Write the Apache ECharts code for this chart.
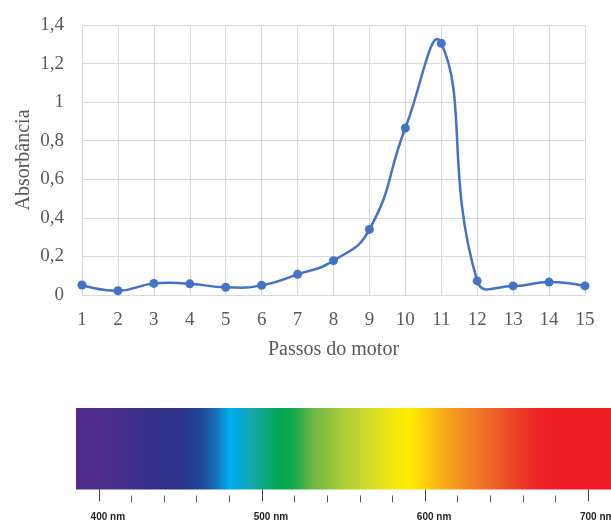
<!DOCTYPE html>
<html lang="pt">
<head>
    <meta charset="UTF-8">
    <title>Absorbância</title>
    <script src="https://cdn.jsdelivr.net/npm/echarts@6/dist/echarts.min.js"></script>
    <style>
        body{ margin:0; background:#fff; }
        .box{ width:611px; height:521px; }
    </style>
</head>
<body>
    <div class="box"></div>
</body>
<script>
 // passos do motor e absorbância lida
 let passos = ['1','2','3','4','5','6','7','8','9','10','11','12','13','14','15']
 let absorbancia = [0.052, 0.022, 0.060, 0.058, 0.040, 0.050, 0.107, 0.178, 0.340, 0.866, 1.305, 0.073, 0.047, 0.067, 0.047]
 let yTicks = [0, 0.2, 0.4, 0.6, 0.8, 1, 1.2, 1.4]

 // faixa do espectro (nm) e cores
 let faixaNm = [386, 714]
 let espectroNm = [386, 413, 433, 450, 464, 472, 480, 487, 494, 511, 519, 531, 548, 564, 580, 591, 603, 615, 635, 652, 669, 683, 714]
 let espectroCor = ['#552A8D', '#46308C', '#36308A', '#2C3188', '#1E4C9C', '#1670B8', '#00AEEF', '#06A8D8', '#17A7A7', '#00A650', '#12A84A', '#6BB543', '#A7CB38', '#CEDA2B', '#F2E80F', '#FFEC00', '#FBC60F', '#F6A11C', '#EF7226', '#EC4A27', '#EB2427', '#ED1C24', '#ED1C24']
 let nmMaior = [400, 500, 600, 700]
 let nmMenor = [420, 440, 460, 480, 520, 540, 560, 580, 620, 640, 660, 680]

 let cinza = '#595959'
 let grade = '#D9D9D9'
 let azul = '#4472C4'
 let serif = 'Liberation Serif'

 // curva suavizada tipo Excel (bezier entre pontos vizinhos)
 function segmento(params, api) {
    let i = api.value(0)
    let pts = absorbancia.map((v, k) => api.coord([k, v]))
    let n = pts.length
    let dist = (a, b) => Math.hypot(b[0] - a[0], b[1] - a[1])
    function ctrl(k) {
        if (k === 0 || k === n - 1) return [pts[k], pts[k]]
        let d0 = dist(pts[k - 1], pts[k]), d1 = dist(pts[k], pts[k + 1])
        let tx = pts[k + 1][0] - pts[k - 1][0], ty = pts[k + 1][1] - pts[k - 1][1]
        let f0 = 0.5 * d0 / (d0 + d1), f1 = 0.5 * d1 / (d0 + d1)
        return [[pts[k][0] - tx * f0, pts[k][1] - ty * f0], [pts[k][0] + tx * f1, pts[k][1] + ty * f1]]
    }
    let a = pts[i], b = pts[i + 1]
    let c1 = ctrl(i)[1], c2 = ctrl(i + 1)[0]
    return {
        type: 'bezierCurve',
        shape: { x1: a[0], y1: a[1], cpx1: c1[0], cpy1: c1[1], cpx2: c2[0], cpy2: c2[1], x2: b[0], y2: b[1] },
        style: { stroke: azul, lineWidth: 2.5, fill: null }
    }
 }

 let chart = echarts.init(document.querySelector('.box'))
 let option = {
    animation: false,
    grid: [
        { left: 82, top: 25, width: 503, height: 270, outerBoundsMode: 'none' },
        { left: 76, top: 408, width: 535, height: 87.5, outerBoundsMode: 'none' }
    ],
    xAxis: [
        {
            gridIndex: 0,
            type: 'category',
            data: passos,
            boundaryGap: false,
            name: 'Passos do motor',
            nameLocation: 'middle',
            nameGap: 45,
            nameMoveOverlap: false,
            nameTextStyle: { color: cinza, fontFamily: serif, fontSize: 20 },
            axisLine: { lineStyle: { color: grade, width: 1 } },
            axisTick: { show: false },
            axisLabel: { color: cinza, fontFamily: serif, fontSize: 19, margin: 16, interval: 0 },
            splitLine: { show: true, interval: 0, lineStyle: { color: grade, width: 1 } }
        },
        {
            // marcas maiores + rótulos
            gridIndex: 1,
            type: 'value',
            min: faixaNm[0],
            max: faixaNm[1],
            position: 'bottom',
            axisLine: { show: false },
            axisTick: { show: true, customValues: nmMaior, length: 12, lineStyle: { color: '#444', width: 1 } },
            axisLabel: {
                customValues: nmMaior,
                formatter: v => v + ' nm',
                color: '#231F20', fontFamily: 'Liberation Sans', fontWeight: 'bold', fontSize: 10,
                margin: 17, padding: [0, 0, 0, 18]
            },
            splitLine: { show: false }
        },
        {
            // marcas menores
            gridIndex: 1,
            type: 'value',
            min: faixaNm[0],
            max: faixaNm[1],
            position: 'bottom',
            axisLine: { show: false },
            axisTick: { show: true, customValues: nmMenor, length: 7, lineStyle: { color: '#555', width: 1 } },
            axisLabel: { show: false },
            splitLine: { show: false }
        }
    ],
    yAxis: [
        {
            gridIndex: 0,
            type: 'value',
            min: yTicks[0],
            max: yTicks[yTicks.length - 1],
            interval: 0.2,
            name: 'Absorbância',
            nameLocation: 'middle',
            nameGap: 48,
            nameMoveOverlap: false,
            nameTextStyle: { color: cinza, fontFamily: serif, fontSize: 20 },
            axisLine: { show: false },
            axisTick: { show: false },
            axisLabel: {
                color: cinza, fontFamily: serif, fontSize: 19, margin: 18,
                formatter: v => String(Math.round(v * 10) / 10).replace('.', ',')
            },
            splitLine: { lineStyle: { color: grade, width: 1 } }
        },
        {
            // faixa 0..1 = barra; abaixo fica o espaço até as marcas
            gridIndex: 1,
            type: 'value',
            min: -0.075,
            max: 1,
            show: false
        }
    ],
    series: [
        {
            type: 'custom',
            xAxisIndex: 0,
            yAxisIndex: 0,
            data: absorbancia.slice(0, -1).map((v, i) => [i, v]),
            renderItem: segmento,
            z: 2
        },
        {
            type: 'line',
            xAxisIndex: 0,
            yAxisIndex: 0,
            data: absorbancia,
            symbol: 'circle',
            symbolSize: 9,
            itemStyle: { color: azul },
            lineStyle: { width: 0, opacity: 0 },
            z: 3
        },
        {
            // barra do espectro visível
            type: 'custom',
            xAxisIndex: 1,
            yAxisIndex: 1,
            data: [[faixaNm[0], faixaNm[1]]],
            renderItem: function (params, api) {
                let p0 = api.coord([api.value(0), 1])
                let p1 = api.coord([api.value(1), 0])
                let w = p1[0] - p0[0]
                let stops = espectroNm.map((nm, i) => ({
                    offset: (api.coord([nm, 0])[0] - p0[0]) / w,
                    color: espectroCor[i]
                }))
                return {
                    type: 'rect',
                    shape: { x: p0[0], y: p0[1], width: w, height: p1[1] - p0[1] },
                    style: { fill: new echarts.graphic.LinearGradient(0, 0, 1, 0, stops) }
                }
            }
        }
    ]
 }
 chart.setOption(option)
</script>
</html>
